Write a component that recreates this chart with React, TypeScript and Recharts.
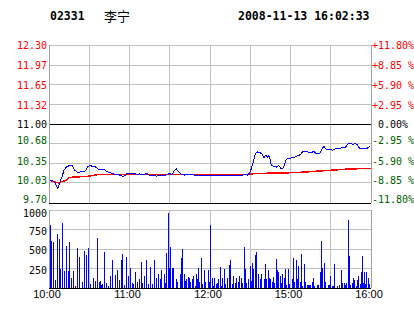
import React from 'react';
import { LineChart, Line, XAxis, YAxis, CartesianGrid, ReferenceLine, BarChart, Bar } from 'recharts';

const stockCode = '02331';
const stockName = '李宁';
const timestamp = '2008-11-13 16:02:33';
const prevClose = 11.0;

const priceTicks = [9.7, 10.03, 10.35, 10.68, 11.0, 11.32, 11.65, 11.97, 12.3];
const priceLabels = ['9.70', '10.03', '10.35', '10.68', '11.00', '11.32', '11.65', '11.97', '12.30'];
const pctLabels = ['-11.80%', '-8.85 %', '-5.90 %', '-2.95 %', ' 0.00%', '+2.95 %', '+5.90 %', '+8.85 %', '+11.80%'];

const timeTicks = [0, 30, 60, 90, 120, 150, 180, 210, 240];
const timeLabels = ['10:00', '', '11:00', '', '12:00', '', '15:00', '', '16:00'];

const volTicks = [0, 250, 500, 750, 1000];
const volLabels = ['', '250', '500', '750', '1000'];

// minutes since 10:00 (trading minutes) and last price
const priceMinutes = [
  0, 3.0, 4.7, 6.7, 8.2, 9.7, 11.2, 12.9, 15.4, 17.1,
  19.2, 21.6, 24.1, 26.1, 27.8, 29.1, 30.3, 32.8, 35.2, 37.0,
  39.0, 41.0, 42.7, 45.2, 47.7, 50.2, 52.7, 55.1, 56.9, 58.3,
  61.3, 63.3, 65.1, 67.6, 70.0, 72.5, 75.0, 77.5, 80.0, 82.5,
  84.9, 87.4, 89.9, 91.7, 93.1, 94.9, 96.6, 98.1, 101.1, 104.8,
  108.6, 112.3, 116.0, 118.5, 120.9, 123.5, 128.4, 133.4, 138.4, 143.3,
  145.8, 147.8, 149.6, 150.7, 152.2, 153.7, 155.2, 157.0, 158.7, 160.2,
  161.7, 162.7, 163.7, 164.9, 165.7, 167.1, 169.4, 171.2, 172.7, 174.1,
  175.6, 176.8, 178.6, 180.6, 182.6, 184.3, 186.1, 188.0, 189.3, 190.5,
  193.0, 195.5, 197.5, 199.2, 201.7, 203.4, 204.9, 206.6, 209.2, 211.6,
  214.1, 216.6, 219.1, 220.8, 222.8, 224.8, 226.5, 228.2, 229.7, 231.5,
  234.0, 236.4, 239.0,
];
const priceValues = [
  10.08, 10.06, 10.02, 9.94, 10.05, 10.13, 10.24, 10.29, 10.32, 10.32,
  10.24, 10.20, 10.22, 10.21, 10.25, 10.30, 10.32, 10.30, 10.29, 10.25,
  10.25, 10.26, 10.22, 10.20, 10.18, 10.17, 10.16, 10.14, 10.15, 10.19,
  10.19, 10.19, 10.17, 10.18, 10.16, 10.19, 10.15, 10.16, 10.14, 10.16,
  10.15, 10.16, 10.19, 10.16, 10.22, 10.26, 10.22, 10.18, 10.16, 10.17,
  10.16, 10.15, 10.16, 10.16, 10.16, 10.15, 10.15, 10.15, 10.16, 10.15,
  10.17, 10.16, 10.20, 10.26, 10.37, 10.51, 10.54, 10.53, 10.51, 10.45,
  10.49, 10.45, 10.48, 10.42, 10.32, 10.31, 10.29, 10.32, 10.27, 10.26,
  10.33, 10.42, 10.43, 10.44, 10.45, 10.47, 10.48, 10.51, 10.56, 10.54,
  10.54, 10.53, 10.55, 10.51, 10.51, 10.59, 10.63, 10.58, 10.58, 10.57,
  10.60, 10.59, 10.62, 10.61, 10.67, 10.68, 10.66, 10.68, 10.66, 10.60,
  10.59, 10.59, 10.63,
];

// average price line
const avgMinutes = [0, 4, 7, 9, 13, 15, 22, 29, 36, 148, 150, 163, 184, 204, 224, 240];
const avgValues = [10.08, 10.05, 10.03, 10.05, 10.07, 10.12, 10.13, 10.14, 10.165, 10.165, 10.18, 10.19, 10.2, 10.23, 10.26, 10.27];

// volume (lots) per trade minute
const volMinutes = [
  0, 0.8, 1.5, 3.0, 3.7, 4.5, 6.0, 6.7, 7.5, 8.9,
  9.7, 10.4, 11.9, 12.7, 13.4, 14.9, 15.6, 16.4, 17.9, 18.6,
  19.4, 21.6, 22.4, 24.6, 26.8, 27.6, 28.3, 29.8, 30.6, 31.3,
  32.8, 33.5, 34.3, 35.8, 37.3, 38.7, 39.5, 40.2, 41.7, 42.5,
  44.0, 45.5, 46.2, 47.7, 49.2, 50.7, 52.2, 53.7, 54.4, 55.1,
  56.6, 57.4, 58.1, 59.6, 61.1, 62.6, 63.3, 64.1, 65.6, 66.3,
  67.1, 68.6, 70.0, 71.5, 72.3, 73.0, 74.5, 75.3, 76.0, 77.5,
  79.0, 80.2,
  81.9, 83.4, 84.2, 86.4, 87.2, 87.9, 89.4, 90.1, 90.9, 92.4,
  93.1, 95.4, 96.1, 98.3, 99.1, 99.8, 101.3, 102.1, 102.8, 104.3,
  105.0, 105.8, 107.3, 108.0, 109.5, 110.3, 111.0, 111.7, 112.5, 114.0,
  114.7, 116.2, 117.0, 119.2, 119.9, 120.7, 122.2, 122.9, 123.7, 125.2,
  125.9, 126.6, 128.1, 128.9, 129.6, 131.1, 131.9, 133.3, 134.8, 135.6,
  137.1, 137.8, 139.3, 140.1, 141.5, 142.3, 143.8, 144.5, 146.0, 146.8,
  147.5, 149.0, 150.5, 151.2, 152.0, 152.7, 154.2, 155.0, 156.5, 157.9,
  158.7, 160.5,
  161.7, 162.4, 163.9, 164.7, 165.4, 166.9, 167.7, 168.4, 169.9, 170.6,
  171.4, 172.9, 173.6, 174.4, 175.9, 176.6, 177.3, 178.8, 179.6, 181.8,
  182.6, 183.3, 184.8, 185.5, 186.3, 187.8, 188.5, 189.3, 190.8, 191.5,
  193.0, 193.7, 194.5, 195.2, 196.7, 197.5, 198.2, 200.4, 201.2, 202.7,
  203.4, 204.2, 205.7, 206.4, 208.6, 209.4, 210.1, 211.6, 212.4, 213.1,
  215.3, 216.8, 218.3, 219.1, 220.6, 221.3, 222.0, 223.5, 224.3, 225.0,
  226.5, 227.3, 228.0, 229.5, 230.2, 231.0, 232.5, 233.2, 234.0, 234.7,
  235.5, 236.2, 237.0, 238.4, 239.2,
];
const volValues = [
  812, 812, 608, 68, 594, 100, 693, 68, 630, 246,
  834, 361, 216, 100, 540, 216, 594, 130, 216, 26,
  26, 514, 400, 81, 476, 140, 425, 514, 26, 48,
  130, 110, 94, 642, 81, 90, 34, 48, 464, 68,
  26, 157, 68, 353, 170, 234, 106, 353, 144, 438,
  34, 400, 110, 157, 251, 68, 55, 208, 48, 81,
  115, 336, 68, 157, 361, 68, 55, 68, 272, 55,
  361, 125,
  174, 111, 235, 174, 68, 451, 962, 258, 523, 258,
  258, 111, 81, 174, 387, 506, 174, 89, 111, 140,
  131, 81, 111, 148, 26, 182, 111, 258, 81, 387,
  47, 225, 81, 225, 81, 812, 123, 26, 131, 47,
  68, 111, 273, 26, 123, 238, 47, 123, 293, 353,
  47, 148, 68, 131, 81, 148, 123, 68, 523, 249,
  68, 111, 281, 89, 324, 238, 429, 464, 174, 111,
  174, 111,
  302, 111, 225, 131, 111, 81, 140, 68, 366, 225,
  208, 148, 68, 182, 123, 249, 38, 247, 55, 111,
  387, 81, 353, 111, 281, 81, 438, 26, 311, 81,
  38, 38, 38, 38, 81, 131, 26, 38, 38, 208,
  608, 258, 324, 81, 38, 38, 148, 26, 26, 311,
  26, 38, 225, 68, 68, 38, 68, 872, 416, 38,
  68, 123, 98, 26, 98, 148, 55, 204, 416, 68,
  208, 47, 208, 123, 47,
];

const priceData = priceMinutes.map((m, i) => ({ m, v: priceValues[i] }));
const avgData = avgMinutes.map((m, i) => ({ m, v: avgValues[i] }));
const volData = volMinutes.map((m, i) => ({ m, v: volValues[i] }));

const RED = '#ff0000';
const GREEN = '#006000';
const BLUE = '#0000ff';
const GRID = '#c0c0c0';
const BORDER = '#a0a0a0';
const AXIS_FONT = '"DejaVu Sans Mono", monospace';

const priceColor = (v: number) => (v > prevClose + 1e-9 ? RED : v < prevClose - 1e-9 ? GREEN : '#000000');
// labels under the previous close sit a little above their grid line
const priceShift = (v: number) => (v < prevClose - 1e-9 ? (v === priceTicks[0] ? -4 : -3) : 0);

const PriceTick = (props: any) => {
  const { x, y, payload } = props;
  const i = priceTicks.indexOf(payload.value);
  return (
    <text x={x} y={y + priceShift(payload.value)} dy={4} textAnchor="end" fill={priceColor(payload.value)} fontFamily={AXIS_FONT} fontSize={10}>
      {priceLabels[i]}
    </text>
  );
};

const PctTick = (props: any) => {
  const { x, y, payload } = props;
  const i = priceTicks.indexOf(payload.value);
  return (
    <text x={x} y={y + priceShift(payload.value)} dy={4} textAnchor="start" fill={priceColor(payload.value)} fontFamily={AXIS_FONT} fontSize={10} style={{ whiteSpace: 'pre' }}>
      {pctLabels[i]}
    </text>
  );
};

const VolTick = (props: any) => {
  const { x, y, payload } = props;
  const i = volTicks.indexOf(payload.value);
  const shift = payload.value === volTicks[volTicks.length - 1] ? 3 : 1;
  return (
    <text x={x} y={y + shift} dy={4} textAnchor="end" fill="#000" fontFamily={AXIS_FONT} fontSize={10}>
      {volLabels[i]}
    </text>
  );
};

const TimeTick = (props: any) => {
  const { x, y, payload } = props;
  const i = timeTicks.indexOf(payload.value);
  return (
    <text x={x} y={y} dx={-2} dy={10} textAnchor="middle" fill="#000" fontFamily='"Liberation Sans", Arial, sans-serif' fontSize={11}>
      {timeLabels[i]}
    </text>
  );
};

const VolBar = (props: any) => {
  const { x, y, width, height } = props;
  if (!height || height <= 0) return null;
  const cx = x + width / 2;
  const left = Math.round(cx - 0.5);
  const top = Math.round(y);
  const bottom = Math.round(y + height);
  return <rect x={left} y={top} width={1} height={Math.max(1, bottom - top)} fill={BLUE} />;
};

export default function App() {
  return (
    <div style={{ position: 'absolute', left: 0, top: 0, width: 414, height: 314, background: '#fff', shapeRendering: 'crispEdges' as any }}>
      <div style={{ position: 'absolute', left: 50, top: 8, fontFamily: '"DejaVu Sans Mono", monospace', fontWeight: 'bold', fontSize: 11.5, color: '#000', lineHeight: '16px' }}>
        {stockCode}
      </div>
      <div style={{ position: 'absolute', left: 104, top: 7, fontFamily: '"Noto Sans CJK SC", sans-serif', fontSize: 13, color: '#000', lineHeight: '17px' }}>
        {stockName}
      </div>
      <div style={{ position: 'absolute', left: 238, top: 8, fontFamily: '"DejaVu Sans Mono", monospace', fontWeight: 'bold', fontSize: 11.5, color: '#000', lineHeight: '16px' }}>
        {timestamp}
      </div>

      <div style={{ position: 'absolute', left: 0, top: 0 }}>
        <LineChart width={414} height={210} margin={{ top: 45, right: 0, bottom: 7, left: 0 }}>
          <CartesianGrid yAxisId="p" stroke={GRID} strokeWidth={1} />
          <XAxis type="number" dataKey="m" domain={[0, 240]} ticks={timeTicks} hide allowDataOverflow />
          <YAxis yAxisId="p" type="number" domain={[9.7, 12.3]} ticks={priceTicks} interval={0} width={49}
            axisLine={{ stroke: BORDER }} tickLine={false} tickSize={0} tickMargin={2} tick={PriceTick} allowDataOverflow />
          <YAxis yAxisId="r" orientation="right" type="number" domain={[9.7, 12.3]} ticks={priceTicks} interval={0} width={43}
            axisLine={{ stroke: BORDER }} tickLine={false} tickSize={0} tickMargin={1} tick={PctTick} allowDataOverflow />
          <ReferenceLine yAxisId="p" y={prevClose} stroke="#000" strokeWidth={1} />
          <ReferenceLine yAxisId="p" y={9.7} stroke="#000" strokeWidth={1} />
          <Line yAxisId="p" data={avgData} dataKey="v" type="linear" stroke={RED} strokeWidth={1.5} dot={false} isAnimationActive={false} />
          <Line yAxisId="p" data={priceData} dataKey="v" type="linear" stroke={BLUE} strokeWidth={1} dot={false} isAnimationActive={false} />
        </LineChart>
      </div>

      <div style={{ position: 'absolute', left: 0, top: 0 }}>
        <BarChart width={414} height={314} data={volData} margin={{ top: 210, right: 0, bottom: 0, left: 0 }}>
          <CartesianGrid yAxisId="v" stroke={GRID} strokeWidth={1} />
          <XAxis type="number" dataKey="m" domain={[0, 240]} ticks={timeTicks} interval={0} height={26}
            axisLine={{ stroke: '#000' }} tickLine={false} tickSize={0} tickMargin={0} tick={TimeTick} allowDataOverflow />
          <YAxis yAxisId="v" type="number" domain={[0, 1000]} ticks={volTicks} interval={0} width={49}
            axisLine={{ stroke: BORDER }} tickLine={false} tickSize={0} tickMargin={2} tick={VolTick} allowDataOverflow />
          <YAxis yAxisId="r" orientation="right" type="number" domain={[0, 1000]} width={43}
            axisLine={{ stroke: BORDER }} tickLine={false} tick={false} />
          <Bar yAxisId="v" dataKey="v" fill={BLUE} shape={VolBar} isAnimationActive={false} />
        </BarChart>
      </div>
    </div>
  );
}
